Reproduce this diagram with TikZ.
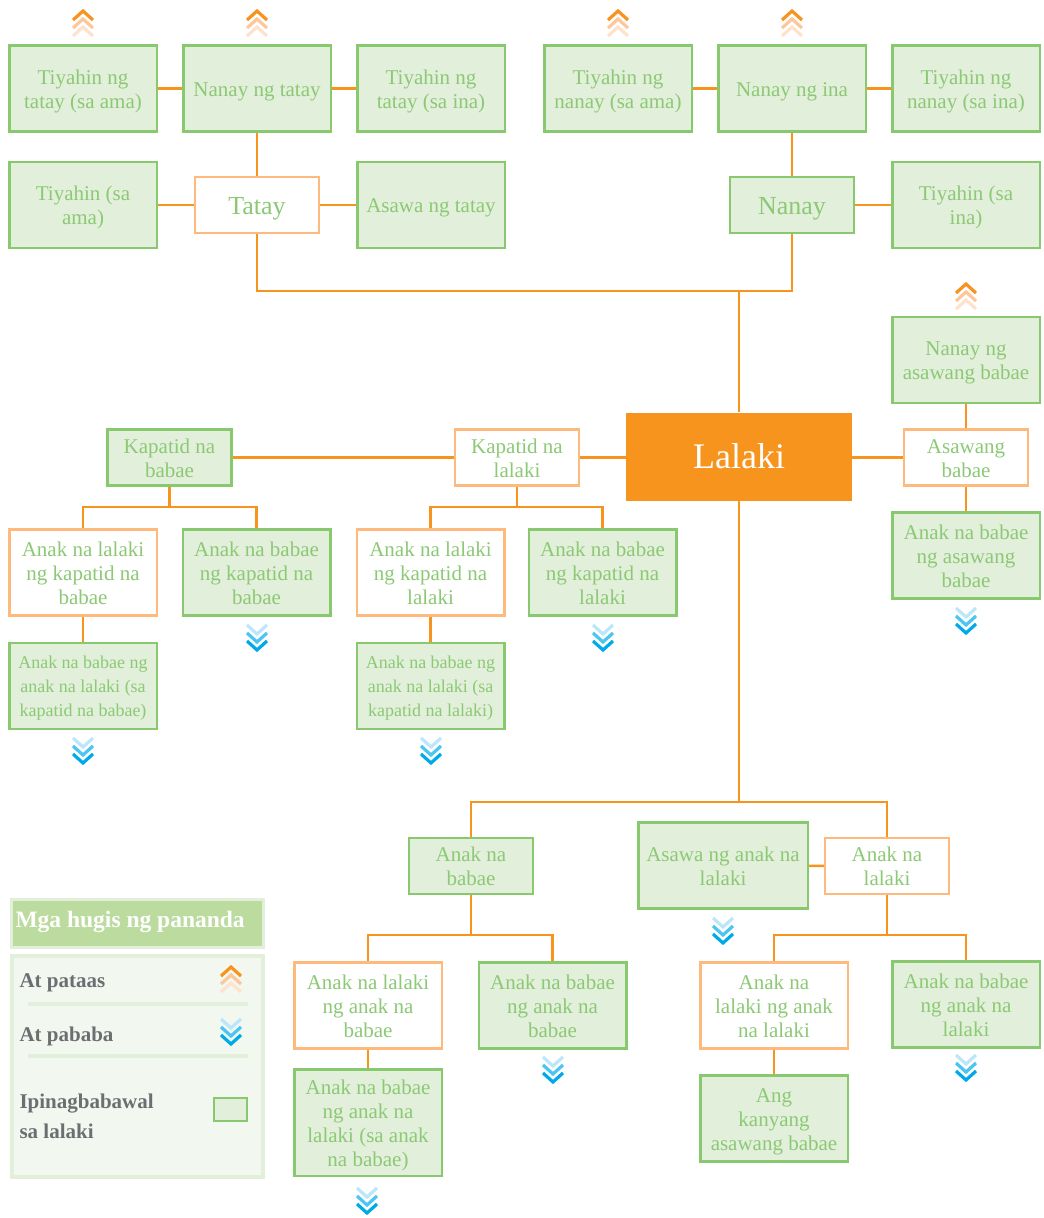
\documentclass[tikz,border=0pt]{standalone}
\usepackage{fontspec}
\setmainfont{Liberation Serif}
\usetikzlibrary{positioning}
\definecolor{boxgreen}{HTML}{88C86E}
\definecolor{fillgreen}{HTML}{E2EFDA}
\definecolor{txtgreen}{HTML}{8CC975}
\definecolor{lineorange}{HTML}{F7941E}
\definecolor{edgeorange}{HTML}{FDBA7C}
\definecolor{chevor1}{HTML}{F7931E}
\definecolor{chevor2}{HTML}{FCC89B}
\definecolor{chevor3}{HTML}{FEE3CC}
\definecolor{chevbl1}{HTML}{00A9E8}
\definecolor{chevbl2}{HTML}{4CC5F2}
\definecolor{chevbl3}{HTML}{BDE6FA}
\definecolor{legtitle}{HTML}{BCDB9F}
\definecolor{legedge}{HTML}{E2EFDA}
\definecolor{legfill}{HTML}{F2F8F0}
\definecolor{leggray}{HTML}{6D6E71}

\begin{document}
\begin{tikzpicture}[x=1pt, y=-1pt,
  box/.style={draw, line width=2.5pt, align=flush center, inner sep=2pt, text=txtgreen,
    font=\fontsize{21}{24}\selectfont, text width=142,
    execute at begin node={\rule{0pt}{0.95em}},
    execute at end node={\rule[-0.22em]{0pt}{0.22em}}},
  ban/.style={box, draw=boxgreen, fill=fillgreen, minimum width=147.5, minimum height=86},
  ok/.style={box, draw=edgeorange, fill=white, minimum width=147.5, minimum height=86},
  small/.style={minimum width=124, minimum height=56, text width=118},
  tiny/.style={font=\fontsize{18}{24}\selectfont},
  link/.style={draw=lineorange, line width=2.5pt},
  chev/.style={line width=3.2pt, line cap=butt, line join=miter},
  legtxt/.style={anchor=west, align=left, text=leggray, font=\fontsize{21}{30}\selectfont\bfseries},
  sepline/.style={draw=legedge, line width=4pt},
  upmark/.pic={
    \draw[chev, chevor3] (-10,26) -- (0,17) -- (10,26);
    \draw[chev, chevor2] (-10,18) -- (0,9) -- (10,18);
    \draw[chev, chevor1] (-10,10) -- (0,1) -- (10,10);},
  downmark/.pic={
    \draw[chev, chevbl3] (-10,0) -- (0,9) -- (10,0);
    \draw[chev, chevbl2] (-10,8) -- (0,17) -- (10,8);
    \draw[chev, chevbl1] (-10,16) -- (0,25) -- (10,16);}]
\useasboundingbox (0,0) rectangle (1044,1218);
% grandparents
\node[ban] (tnta) at (83,88.5) {Tiyahin ng\\tatay (sa ama)};
\node[ban, right=24 of tnta] (nnt) {Nanay ng tatay};
\node[ban, right=24 of nnt] (tnti) {Tiyahin ng\\tatay (sa ina)};
\node[ban] (tnna) at (618,88.5) {Tiyahin ng\\nanay (sa ama)};
\node[ban, right=24 of tnna] (nni) {Nanay ng ina};
\node[ban, right=24 of nni] (tnni) {Tiyahin ng\\nanay (sa ina)};
% parents
\node[ban] (tsa) at (83,205) {Tiyahin (sa\\ama)};
\node[ok, small, font=\fontsize{26}{30}\selectfont] (tatay) at (257,205) {Tatay};
\node[ban] (ant) at (431,205) {Asawa ng tatay};
\node[ban, small, font=\fontsize{26}{30}\selectfont] (nanay) at (792,205) {Nanay};
\node[ban] (tsi) at (966,205) {Tiyahin (sa\\ina)};
\draw[link] (tnta) -- (nnt); \draw[link] (nnt) -- (tnti);
\draw[link] (tnna) -- (nni); \draw[link] (nni) -- (tnni);
\draw[link] (nnt) -- (tatay); \draw[link] (tsa) -- (tatay); \draw[link] (tatay) -- (ant);
\draw[link] (nni) -- (nanay); \draw[link] (nanay) -- (tsi);
% ego and spouse
\node[fill=lineorange, text=white, minimum width=226, minimum height=88,
  font=\fontsize{36}{40}\selectfont] (lalaki) at (739,456.5) {Lalaki};
\node[ban] (nab) at (966,360) {Nanay ng\\asawang babae};
\node[ok, small] (asb) at (966,457.5) {Asawang\\babae};
\node[ban] (abasb) at (966,555.5) {Anak na babae\\ng asawang\\babae};
\coordinate (pj) at (739,291);
\draw[link] (tatay.south) |- (pj) -| (nanay.south);
\draw[link] (pj) -- (lalaki);
\draw[link] (lalaki.east |- asb) -- (asb); \draw[link] (nab) -- (asb); \draw[link] (asb) -- (abasb);
% siblings
\node[ok, small] (kapl) at (517,457.5) {Kapatid na\\lalaki};
\node[ban, small] (kapb) at (169.5,457.5) {Kapatid na\\babae};
\draw[link] (kapb) -- (kapl); \draw[link] (kapl) -- (kapl -| lalaki.west);
\node[ok] (alkb) at (83,572.5) {Anak na lalaki\\ng kapatid na\\babae};
\node[ban] (abkb) at (256.5,572.5) {Anak na babae\\ng kapatid na\\babae};
\node[ban, tiny] (ablkb) at (83,686) {Anak na babae ng\\anak na lalaki (sa\\kapatid na babae)};
\node[ok] (alkl) at (430.5,572.5) {Anak na lalaki\\ng kapatid na\\lalaki};
\node[ban] (abkl) at (602.5,572.5) {Anak na babae\\ng kapatid na\\lalaki};
\node[ban, tiny] (ablkl) at (430.5,686) {Anak na babae ng\\anak na lalaki (sa\\kapatid na lalaki)};
\coordinate (kbj) at (169.5,507);
\coordinate (klj) at (517,507);
\draw[link] (kapb) -- (kbj); \draw[link] (alkb.north) |- (kbj) -| (abkb.north);
\draw[link] (kapl) -- (klj); \draw[link] (alkl.north) |- (klj) -| (abkl.north);
\draw[link] (alkb) -- (ablkb); \draw[link] (alkl) -- (ablkl);
% children
\node[ban, small] (anb) at (471,866) {Anak na\\babae};
\node[ok, small] (anl) at (887,866) {Anak na\\lalaki};
\node[ban, minimum width=169.5, text width=165] (asanl) at (723,865.5) {Asawa ng anak na\\lalaki};
\coordinate (lj) at (739,802);
\draw[link] (lalaki) -- (lj); \draw[link] (anb.north) |- (lj) -| (anl.north);
\draw[link] (asanl) -- (anl);
% grandchildren
\node[ok] (alab) at (368,1005.5) {Anak na lalaki\\ng anak na\\babae};
\node[ban] (abab) at (552.5,1005.5) {Anak na babae\\ng anak na\\babae};
\node[ban, minimum height=106.5] (abalab) at (368,1122.5) {Anak na babae\\ng anak na\\lalaki (sa anak\\na babae)};
\node[ok] (alal) at (774,1005.5) {Anak na\\lalaki ng anak\\na lalaki};
\node[ban] (abal) at (966,1004.5) {Anak na babae\\ng anak na\\lalaki};
\node[ban] (akab) at (774,1118.5) {Ang\\kanyang\\asawang babae};
\coordinate (abj) at (471,935);
\coordinate (alj) at (887,935);
\draw[link] (anb) -- (abj); \draw[link] (alab.north) |- (abj) -| (abab.north);
\draw[link] (anl) -- (alj); \draw[link] (alal.north) |- (alj) -| (abal.north);
\draw[link] (alab) -- (abalab); \draw[link] (alal) -- (akab);
% up and down marks
\foreach \x/\y in {83/10, 257/10, 618/10, 792/10, 966/283}
  \pic at (\x,\y) {upmark};
\foreach \x/\y in {257/625, 603/625, 966/608, 83/738, 431/738, 723/918, 553/1057, 966/1055, 367/1188}
  \pic at (\x,\y) {downmark};
% legend
\node[draw=legedge, fill=legtitle, line width=3pt, minimum width=252, minimum height=48,
  anchor=north west] (legtop) at (9.5,897.5) {};
\node[anchor=west, text=white, font=\fontsize{23.5}{28}\selectfont\bfseries] (legttl) at (12,922) {Mga hugis ng pananda};
\node[draw=legedge, fill=legfill, line width=4pt, minimum width=251, minimum height=221,
  anchor=north west] (legbox) at (10,954) {};
\node[legtxt] (lup) at (16,983) {At pataas};
\node[legtxt] (ldown) at (16,1036) {At pababa};
\node[legtxt] (lban) at (16,1116) {Ipinagbabawal\\sa lalaki};
\draw[sepline] (28,1004) -- (248,1004);
\draw[sepline] (28,1056) -- (248,1056);
\pic at (231,966) {upmark};
\pic at (231,1019) {downmark};
\node[draw=boxgreen, fill=fillgreen, line width=2.5pt, minimum width=33, minimum height=23] (legkey) at (230.5,1109.5) {};
\end{tikzpicture}
\end{document}
